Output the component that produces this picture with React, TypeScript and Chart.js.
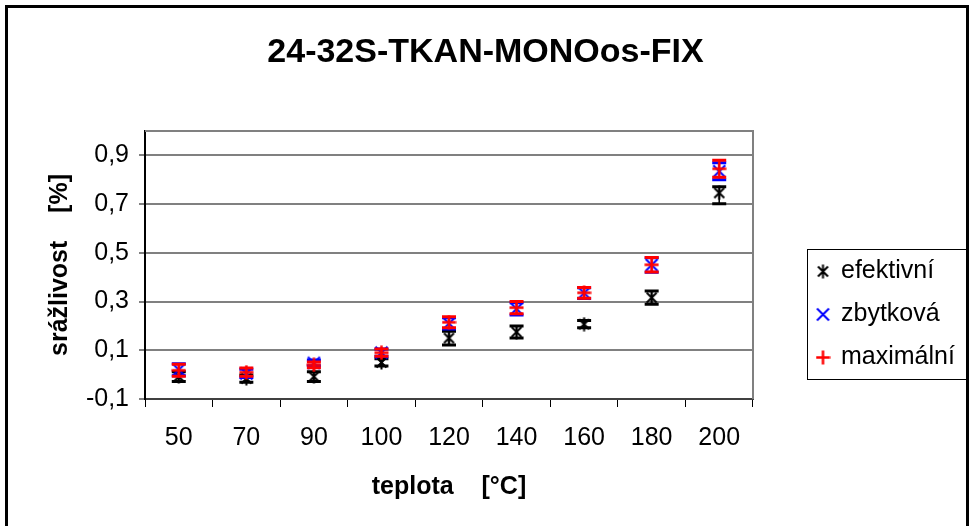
import React, { useEffect, useRef } from 'react';
import { Chart, registerables } from 'chart.js';

Chart.register(...registerables);

const categories = ['50', '70', '90', '100', '120', '140', '160', '180', '200'];
const efektivni = [-0.008, -0.016, -0.008, 0.05, 0.15, 0.175, 0.207, 0.316, 0.746];
const zbytkova = [0.02, 0.005, 0.048, 0.09, 0.21, 0.27, 0.335, 0.45, 0.835];
const maximalni = [0.018, 0.01, 0.04, 0.09, 0.215, 0.275, 0.336, 0.451, 0.845];
const efektivniErrPlus = [0.02, 0.015, 0.02, 0.015, 0.028, 0.025, 0.015, 0.027, 0.025];
const efektivniErrMinus = [0.02, 0.015, 0.02, 0.015, 0.028, 0.025, 0.015, 0.027, 0.045];
const zbytkovaErr = [0.025, 0.017, 0.012, 0.015, 0.023, 0.025, 0.022, 0.03, 0.035];
const maximalniErr = [0.025, 0.017, 0.012, 0.015, 0.023, 0.025, 0.022, 0.03, 0.035];
const yTickValues = [-0.1, 0.1, 0.3, 0.5, 0.7, 0.9];
const seriesNames = ['efektivní', 'zbytková', 'maximální'];
const seriesColors = ['#000000', '#0000ff', '#ff0000'];
const seriesMarkers = ['star', 'x', 'plus'];

const FONT = "'Liberation Sans', Arial, sans-serif";

function makeMarker(kind: string, color: string): HTMLCanvasElement {
  const c = document.createElement('canvas');
  c.width = 15;
  c.height = 15;
  const g = c.getContext('2d')!;
  g.strokeStyle = color;
  g.lineWidth = 2;
  g.beginPath();
  if (kind === 'star') {
    g.moveTo(2.5, 2.5);
    g.lineTo(12.5, 12.5);
    g.moveTo(12.5, 2.5);
    g.lineTo(2.5, 12.5);
    g.moveTo(7.5, 0.5);
    g.lineTo(7.5, 14.5);
  } else if (kind === 'x') {
    g.moveTo(1.5, 1.5);
    g.lineTo(13.5, 13.5);
    g.moveTo(13.5, 1.5);
    g.lineTo(1.5, 13.5);
  } else {
    g.lineWidth = 2.5;
    g.moveTo(0.5, 7.5);
    g.lineTo(14.5, 7.5);
    g.moveTo(7.5, 0.5);
    g.lineTo(7.5, 14.5);
  }
  g.stroke();
  return c;
}

export default function App() {
  const ref = useRef<HTMLCanvasElement | null>(null);

  useEffect(() => {
    const canvas = ref.current;
    if (!canvas) return;
    const markers = seriesMarkers.map((m, i) => makeMarker(m, seriesColors[i]));
    const values = [efektivni, zbytkova, maximalni];
    const errsPlus = [efektivniErrPlus, zbytkovaErr, maximalniErr];
    const errsMinus = [efektivniErrMinus, zbytkovaErr, maximalniErr];

    const errorBars = {
      id: 'errorBars',
      beforeDatasetDraw(chart: any, args: any) {
        const i = args.index;
        const meta = args.meta;
        const ys = chart.scales.y;
        const ctx = chart.ctx;
        ctx.save();
        ctx.strokeStyle = seriesColors[i];
        values[i].forEach((v, k) => {
          const pt = meta.data[k];
          if (!pt) return;
          const x = pt.x;
          const yt = ys.getPixelForValue(v + errsPlus[i][k]);
          const yb = ys.getPixelForValue(v - errsMinus[i][k]);
          ctx.lineWidth = 1.5;
          ctx.beginPath();
          ctx.moveTo(x, yt);
          ctx.lineTo(x, yb);
          ctx.stroke();
          ctx.lineWidth = 3;
          ctx.beginPath();
          ctx.moveTo(x - 7, yt);
          ctx.lineTo(x + 7, yt);
          ctx.moveTo(x - 7, yb);
          ctx.lineTo(x + 7, yb);
          ctx.stroke();
        });
        ctx.restore();
      },
    };

    const frame = {
      id: 'frame',
      beforeDatasetsDraw(chart: any) {
        const { ctx, chartArea: a } = chart;
        ctx.save();
        ctx.strokeStyle = '#808080';
        ctx.lineWidth = 2;
        ctx.beginPath();
        ctx.moveTo(a.left, a.top);
        ctx.lineTo(a.right, a.top);
        ctx.lineTo(a.right, a.bottom);
        ctx.stroke();
        ctx.restore();
      },
      afterDraw(chart: any) {
        const ctx = chart.ctx;
        ctx.save();
        // outer border
        ctx.strokeStyle = '#000';
        ctx.lineWidth = 3;
        ctx.strokeRect(6.5, 6.5, 961, 530);
        // legend
        const lx = 807.5, ly = 249.5, lw = 159, lh = 130;
        ctx.lineWidth = 1;
        ctx.strokeRect(lx, ly, lw, lh);
        ctx.font = `25px ${FONT}`;
        ctx.textBaseline = 'middle';
        ctx.textAlign = 'left';
        ctx.fillStyle = '#000';
        seriesNames.forEach((name, i) => {
          const cy = ly + 22 + i * 43;
          const m = markers[i];
          ctx.drawImage(m, 823 - m.width / 2, Math.round(cy - m.height / 2));
          ctx.fillText(name, 841, cy);
        });
        ctx.restore();
      },
    };

    const orders = [2, 1, 0];
    const chart = new Chart(canvas, {
      type: 'line',
      data: {
        labels: categories,
        datasets: values.map((v, i) => ({
          label: seriesNames[i],
          data: v,
          showLine: false,
          pointStyle: markers[i] as any,
          pointRadius: 7,
          borderColor: seriesColors[i],
          backgroundColor: seriesColors[i],
          order: orders[i],
        })),
      },
      options: {
        responsive: false,
        animation: false,
        devicePixelRatio: 1,
        layout: { padding: { left: 0, right: 0, top: 0, bottom: 0 } },
        plugins: {
          legend: { display: false },
          tooltip: { enabled: false },
          title: {
            display: true,
            text: '24-32S-TKAN-MONOos-FIX',
            color: '#000',
            font: { family: FONT, size: 34, weight: 'bold' },
            padding: { top: 32, bottom: 58.2 },
          },
        },
        scales: {
          x: {
            type: 'category',
            offset: true,
            grid: {
              display: true,
              offset: true,
              drawOnChartArea: false,
              drawTicks: true,
              tickLength: 8,
              color: '#000',
              lineWidth: 1,
            },
            border: { display: true, color: '#404040', width: 2 },
            ticks: {
              color: '#000',
              font: { family: FONT, size: 25 },
              padding: 16,
              maxRotation: 0,
              autoSkip: false,
            },
            title: {
              display: true,
              text: 'teplota    [°C]',
              color: '#000',
              font: { family: FONT, size: 25, weight: 'bold' },
              padding: { top: 0, bottom: 24 },
            },
            afterFit: (s: any) => {
              s.height = 127;
            },
          },
          y: {
            type: 'linear',
            position: 'left',
            min: -0.1,
            max: 1.0,
            afterBuildTicks: (s: any) => {
              s.ticks = yTickValues.map((v) => ({ value: v }));
            },
            grid: {
              color: '#808080',
              lineWidth: 2,
              tickLength: 6,
            },
            border: { display: true, color: '#000', width: 2 },
            ticks: {
              color: '#000',
              font: { family: FONT, size: 25 },
              padding: 10,
              callback: (v: any) => String(v).replace('.', ','),
            },
            title: {
              display: true,
              text: 'srážlivost    [%]',
              color: '#000',
              font: { family: FONT, size: 25, weight: 'bold' },
              padding: { top: 45, bottom: 0 },
            },
            afterFit: (s: any) => {
              s.width = 145;
            },
          },
          yRightSpace: {
            type: 'linear',
            position: 'right',
            display: true,
            grid: { display: false, drawTicks: false },
            border: { display: false },
            ticks: { display: false },
            afterFit: (s: any) => {
              s.width = 218;
            },
          },
        },
      },
      plugins: [errorBars, frame],
    } as any);

    return () => chart.destroy();
  }, []);

  return (
    <div style={{ position: 'absolute', left: 0, top: 0, width: 971, height: 526, background: '#fff' }}>
      <canvas ref={ref} width={971} height={526} style={{ width: 971, height: 526, display: 'block' }} />
    </div>
  );
}
